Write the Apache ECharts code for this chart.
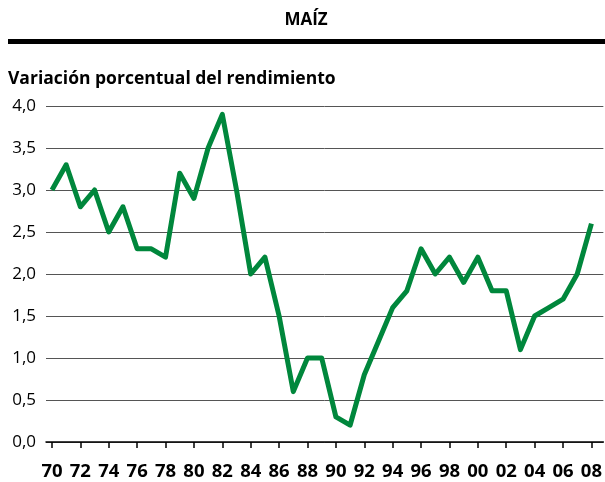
<!DOCTYPE html>
<html>
<head>
<meta charset="utf-8">
<script src="https://cdn.jsdelivr.net/npm/echarts@6/dist/echarts.min.js"></script>
<style>
	html, body { margin: 0; padding: 0; background: #fff; }
	#chart { width: 605px; height: 482px; }
</style>
</head>
<body>
<div id="chart"></div>
<script>
// años 1970-2008
var years = [1970, 1971, 1972, 1973, 1974, 1975, 1976, 1977, 1978, 1979,
	1980, 1981, 1982, 1983, 1984, 1985, 1986, 1987, 1988, 1989,
	1990, 1991, 1992, 1993, 1994, 1995, 1996, 1997, 1998, 1999,
	2000, 2001, 2002, 2003, 2004, 2005, 2006, 2007, 2008];
// variación porcentual del rendimiento
var rendimiento = [3.0, 3.3, 2.8, 3.0, 2.5, 2.8, 2.3, 2.3, 2.2, 3.2,
	2.9, 3.5, 3.9, 3.0, 2.0, 2.2, 1.5, 0.6, 1.0, 1.0,
	0.3, 0.2, 0.8, 1.2, 1.6, 1.8, 2.3, 2.0, 2.2, 1.9,
	2.2, 1.8, 1.8, 1.1, 1.5, 1.6, 1.7, 2.0, 2.6];
var tickYears = [1970, 1972, 1974, 1976, 1978, 1980, 1982, 1984, 1986, 1988,
	1990, 1992, 1994, 1996, 1998, 2000, 2002, 2004, 2006, 2008];

var seriesData = [];
for (var i = 0; i < years.length; i++) {
	seriesData.push([years[i], rendimiento[i]]);
}

var font = '"Open Sans", "Noto Sans", sans-serif';
var myChart = echarts.init(document.getElementById('chart'));
var option = {
	animation: false,
	textStyle: { fontFamily: font },
	title: [
		{
			text: 'MAÍZ',
			left: 306, top: 12, textAlign: 'center', padding: 0,
			textStyle: { fontSize: 17, fontWeight: 'bold', color: '#000', fontFamily: font }
		},
		{
			text: 'Variación porcentual del rendimiento',
			left: 8, top: 70, padding: 0,
			textStyle: { fontSize: 17.5, fontWeight: 'bold', color: '#000', fontFamily: font }
		}
	],
	graphic: [
		{ type: 'rect', shape: { x: 8, y: 39, width: 597, height: 5 }, style: { fill: '#000' } }
	],
	grid: { left: 46, right: 0, top: 106, bottom: 40 },
	xAxis: {
		type: 'value',
		min: 1969.58,
		max: 2008.84,
		axisLine: { show: true, lineStyle: { color: '#000', width: 1.5 } },
		axisTick: { show: true, customValues: tickYears, length: 6, lineStyle: { color: '#000', width: 1.5 } },
		axisLabel: {
			customValues: tickYears,
			margin: 20,
			fontSize: 18.5, fontWeight: 'bold', color: '#000', fontFamily: font,
			formatter: function (v) { return String(v).slice(2); }
		},
		splitLine: { show: false }
	},
	yAxis: {
		type: 'value',
		min: 0, max: 4, interval: 0.5,
		axisLine: { show: false },
		axisTick: { show: false },
		axisLabel: {
			margin: 10, fontSize: 17, color: '#000', fontFamily: font,
			formatter: function (v) { return v.toFixed(1).replace('.', ','); }
		},
		splitLine: { lineStyle: { color: '#555', width: 1 } }
	},
	series: [
		{
			type: 'line',
			data: seriesData,
			symbol: 'none',
			lineStyle: { color: '#00873c', width: 5, join: 'round' }
		}
	]
};
myChart.setOption(option);
</script>
</body>
</html>
